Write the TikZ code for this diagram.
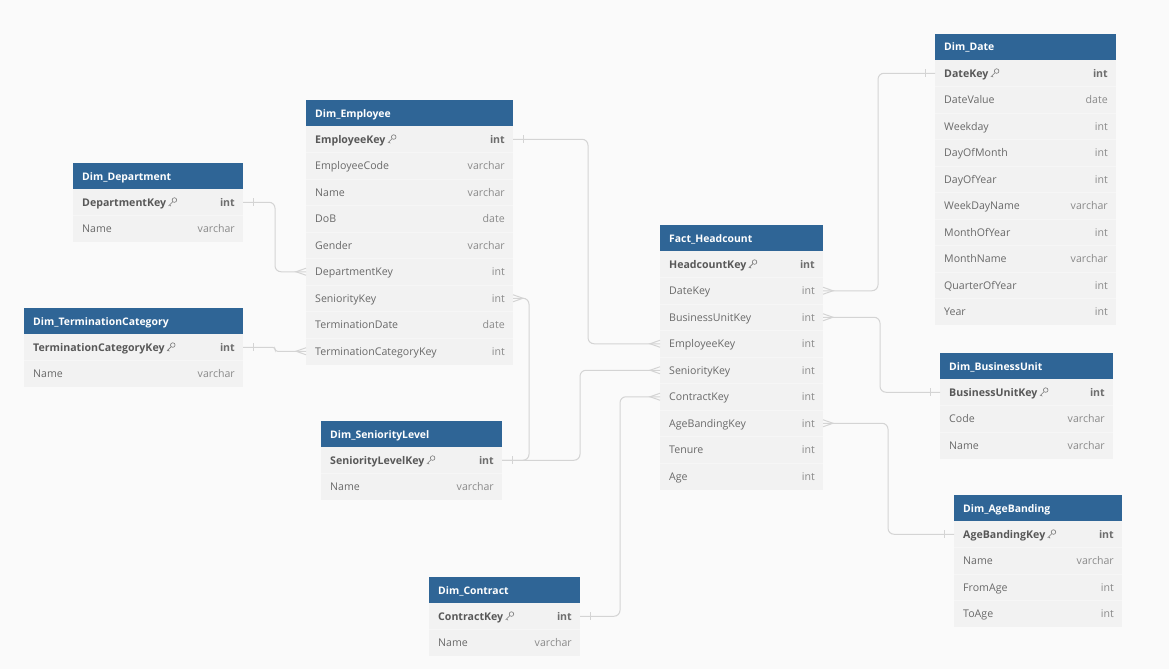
\documentclass[tikz,border=0pt]{standalone}
\usepackage{fontspec}
\setmainfont{Open Sans}
\usetikzlibrary{positioning}

\definecolor{bgcol}{RGB}{250,250,250}
\definecolor{headcol}{RGB}{47,101,150}
\definecolor{bodycol}{RGB}{242,242,242}
\definecolor{sepcol}{RGB}{246,246,246}
\definecolor{linecol}{RGB}{212,212,212}
\definecolor{keycol}{RGB}{88,88,88}
\definecolor{fldcol}{RGB}{105,105,105}
\definecolor{typecol}{RGB}{138,138,138}

\tikzset{
  tabhead/.style={fill=headcol, minimum height=26, inner sep=0pt, outer sep=0pt},
  tabtitle/.style={text=white, font=\fontsize{10.4}{12}\selectfont\bfseries, inner sep=0pt, text height=9pt, text depth=1pt},
  tabrow/.style={fill=bodycol, minimum height=26.5, inner sep=0pt, outer sep=0pt},
  keytxt/.style={text=keycol, font=\fontsize{10.6}{12}\selectfont\bfseries, text height=9pt, text depth=1pt},
  fieldtxt/.style={text=fldcol, font=\fontsize{10.6}{12}\selectfont, text height=9pt, text depth=1pt},
  rowtxt/.code={\ifnum#1=1 \pgfkeysalso{keytxt}\else\pgfkeysalso{fieldtxt}\fi},
  typetxt/.code={\ifnum#1=1 \pgfkeysalso{keytxt,text=typecol!80!black}\else\pgfkeysalso{fieldtxt,text=typecol}\fi},
  keyicon/.style={draw=keycol!80, line width=0.6pt},
  sepline/.style={draw=sepcol, line width=0.6pt},
  conn/.style={draw=linecol, line width=1pt}
}

% one table: id, x, y, width, title, rows (name/type/key)
\newcommand\erdtable[6]{%
  \node[tabhead, minimum width=#4, anchor=north west] (#1) at (#2,#3) {};
  \node[tabtitle, anchor=west] (#1t) at ([xshift=9]#1.west) {#5};
  \foreach \fname/\ftype/\fkey [count=\i] in {#6} {
    \node[tabrow, minimum width=#4, anchor=north west] (#1\i) at (#2,{#3+26+26.5*(\i-1)}) {};
    \ifnum\i>1 \draw[sepline] (#1\i.north west) -- (#1\i.north east); \fi
    \node[rowtxt=\fkey, anchor=west, inner sep=0pt] (#1\i n) at ([xshift=9]#1\i.west) {\fname};
    \node[typetxt=\fkey, anchor=east, inner sep=0pt] (#1\i y) at ([xshift=-8]#1\i.east) {\ftype};
    \ifnum\fkey=1
      \draw[keyicon] ([shift={(8,-2.2)}]#1\i n.east) circle (2.3)
        ([shift={(6.4,-0.6)}]#1\i n.east) -- ([shift={(2.2,3.6)}]#1\i n.east)
        ([shift={(3.2,2.6)}]#1\i n.east) -- ([shift={(4.6,4)}]#1\i n.east);
    \fi
  }
}
% cardinality marks
\newcommand\onebar[2]{\draw[conn] ([xshift=#2]#1) ++(0,-4) -- ++(0,8);}
\newcommand\crowfoot[2]{\draw[conn] ([yshift=-3.5]#1) -- ([xshift=#2]#1) -- ([yshift=3.5]#1);}

\begin{document}
\begin{tikzpicture}[x=1pt,y=-1pt]
\useasboundingbox[fill=bgcol] (0,0) rectangle (1169,669);

\erdtable{emp}{306}{100}{207}{Dim\_Employee}{EmployeeKey/int/1, EmployeeCode/varchar/0, Name/varchar/0, DoB/date/0, Gender/varchar/0, DepartmentKey/int/0, SeniorityKey/int/0, TerminationDate/date/0, TerminationCategoryKey/int/0}
\erdtable{dep}{73}{163}{170}{Dim\_Department}{DepartmentKey/int/1, Name/varchar/0}
\erdtable{term}{24}{308}{219}{Dim\_TerminationCategory}{TerminationCategoryKey/int/1, Name/varchar/0}
\erdtable{sen}{321}{421}{181}{Dim\_SeniorityLevel}{SeniorityLevelKey/int/1, Name/varchar/0}
\erdtable{con}{429}{577}{151}{Dim\_Contract}{ContractKey/int/1, Name/varchar/0}
\erdtable{fact}{660}{225}{163}{Fact\_Headcount}{HeadcountKey/int/1, DateKey/int/0, BusinessUnitKey/int/0, EmployeeKey/int/0, SeniorityKey/int/0, ContractKey/int/0, AgeBandingKey/int/0, Tenure/int/0, Age/int/0}
\erdtable{date}{935}{34}{181}{Dim\_Date}{DateKey/int/1, DateValue/date/0, Weekday/int/0, DayOfMonth/int/0, DayOfYear/int/0, WeekDayName/varchar/0, MonthOfYear/int/0, MonthName/varchar/0, QuarterOfYear/int/0, Year/int/0}
\erdtable{bu}{940}{353}{173}{Dim\_BusinessUnit}{BusinessUnitKey/int/1, Code/varchar/0, Name/varchar/0}
\erdtable{age}{954}{495}{168}{Dim\_AgeBanding}{AgeBandingKey/int/1, Name/varchar/0, FromAge/int/0, ToAge/int/0}

% relationships
\draw[conn, rounded corners=6] (dep1.east) -- ++(32,0) |- (emp6.west);
\onebar{dep1.east}{10} \crowfoot{emp6.west}{-10}
\draw[conn, rounded corners=2.5] (term1.east) -- ++(32,0) |- (emp9.west);
\onebar{term1.east}{10} \crowfoot{emp9.west}{-10}
\draw[conn, rounded corners=6] (emp1.east) -- ++(75,0) |- (fact4.west);
\onebar{emp1.east}{10} \crowfoot{fact4.west}{-10}
\draw[conn, rounded corners=6] (sen1.east) -- ++(27,0) |- (emp7.east);
\draw[conn, rounded corners=6] (sen1.east) -- ++(78,0) |- (fact5.west);
\onebar{sen1.east}{10} \crowfoot{emp7.east}{10} \crowfoot{fact5.west}{-10}
\draw[conn, rounded corners=6] (con1.east) -- ++(40,0) |- (fact6.west);
\onebar{con1.east}{10} \crowfoot{fact6.west}{-10}
\draw[conn, rounded corners=6] (fact2.east) -- ++(55,0) |- (date1.west);
\crowfoot{fact2.east}{10} \onebar{date1.west}{-10}
\draw[conn, rounded corners=6] (fact3.east) -- ++(57,0) |- (bu1.west);
\crowfoot{fact3.east}{10} \onebar{bu1.west}{-10}
\draw[conn, rounded corners=6] (fact7.east) -- ++(65,0) |- (age1.west);
\crowfoot{fact7.east}{10} \onebar{age1.west}{-10}
\end{tikzpicture}
\end{document}
